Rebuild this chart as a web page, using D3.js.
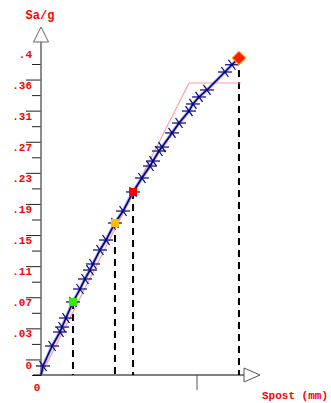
<!DOCTYPE html>
<html>
<head>
<meta charset="utf-8">
<script src="https://cdn.jsdelivr.net/npm/d3@7"></script>
<style>
  body { margin: 0; background: #fff; }
  text { font-family: "Liberation Mono", "DejaVu Sans Mono", monospace; font-weight: bold; fill: #ff0000; }
</style>
</head>
<body>
<div id="chart"></div>
<script>
// Capacity curve data (displacement in mm, Sa/g)
const dispMm = [0, 1.3, 7.1, 12.2, 13.5, 16.0, 20.5, 25.0, 28.2, 31.4, 33.3, 37.8, 41.7, 47.4, 52.6, 59.0,
  64.7, 69.9, 71.8, 75.6, 77.6, 84.0, 88.5, 94.9, 97.4, 101.3, 106.4, 117.9, 122.4, 126.9];
const saG = [0, 0.0116, 0.0373, 0.0553, 0.0617, 0.0733, 0.0939, 0.1106, 0.1235, 0.1350, 0.1428, 0.1608,
  0.1736, 0.1955, 0.2109, 0.2354, 0.2534, 0.2688, 0.2752, 0.2881, 0.2932, 0.3113, 0.3241, 0.3395,
  0.3486, 0.3576, 0.3666, 0.3897, 0.3990, 0.4077];

// Bilinear equivalent
const bilinX = [0, 94.9, 128.2];
const bilinY = [0, 0.3756, 0.3756];

// Highlighted points (limit states)
const poiX = [20.5, 47.4, 59.0, 126.9];
const poiY = [0.0939, 0.1955, 0.2354, 0.4077];
const poiColor = ["#33ee00", "#ffbb00", "#ff0000", "#ff1a00"];

// Y tick labels
const yTicks = [0, 0.04, 0.08, 0.12, 0.16, 0.20, 0.24, 0.28, 0.32, 0.36, 0.40];
const yLabels = ["0", ".03", ".07", ".11", ".15", ".19", ".23", ".27", ".31", ".36", ".4"];
const yMinor = [0.02, 0.06, 0.10, 0.14, 0.18, 0.22, 0.26, 0.30, 0.34, 0.38];
const xTicks = [100];

const W = 331, H = 403;
const x = d3.scaleLinear().domain([0, 100]).range([41, 197]);
const y = d3.scaleLinear().domain([0, 0.4]).range([375, 64]);

const svg = d3.select("#chart").append("svg")
    .attr("width", W)
    .attr("height", H);

// y axis: labeled (short) ticks
const yAx = svg.append("g")
    .attr("transform", `translate(${x(0)},0)`)
    .call(d3.axisLeft(y).tickValues(yTicks).tickSize(9).tickPadding(0)
        .tickFormat((d, i) => yLabels[i]));
yAx.select(".domain").remove();
yAx.selectAll("line").attr("stroke", "#222");
yAx.selectAll("text")
    .attr("x", -9)
    .attr("y", -7)
    .attr("dy", 0)
    .style("font-size", "11px")
    .style("fill", "#ff0000");

// y axis: long in-between ticks
const yAx2 = svg.append("g")
    .attr("transform", `translate(${x(0)},0)`)
    .call(d3.axisLeft(y).tickValues(yMinor).tickSize(15).tickFormat(""));
yAx2.select(".domain").remove();
yAx2.selectAll("line").attr("stroke", "#222");

// y axis line + arrow
svg.append("line")
    .attr("x1", x(0)).attr("x2", x(0))
    .attr("y1", y(0)).attr("y2", 42)
    .attr("stroke", "#666").attr("stroke-width", 1.5);
svg.append("path")
    .attr("d", `M${x(0) - 7.5},42 L${x(0)},27 L${x(0) + 7.5},42 Z`)
    .attr("fill", "none").attr("stroke", "#666");

// x axis line + arrow
svg.append("line")
    .attr("x1", 33).attr("x2", 244)
    .attr("y1", y(0)).attr("y2", y(0))
    .attr("stroke", "#000").attr("stroke-width", 1.2);
svg.append("path")
    .attr("d", `M244,${y(0) - 7} L260,${y(0)} L244,${y(0) + 7} Z`)
    .attr("fill", "none").attr("stroke", "#555");

svg.selectAll(".xtick")
    .data(xTicks)
    .join("line")
    .attr("x1", d => x(d)).attr("x2", d => x(d))
    .attr("y1", y(0)).attr("y2", y(0) + 15)
    .attr("stroke", "#555");

svg.append("text")
    .attr("x", x(0) - 4).attr("y", 391)
    .attr("text-anchor", "middle")
    .style("font-size", "11px")
    .text("0");

// axis titles
svg.append("text")
    .attr("x", 40).attr("y", 19)
    .attr("text-anchor", "middle")
    .style("font-size", "12px")
    .text("Sa/g");
svg.append("text")
    .attr("x", 262).attr("y", 399)
    .style("font-size", "11px")
    .text("Spost (mm)");

// dashed drop lines
svg.selectAll(".drop")
    .data(poiX)
    .join("line")
    .attr("x1", d => x(d)).attr("x2", d => x(d))
    .attr("y1", (d, i) => y(poiY[i]))
    .attr("y2", y(0))
    .attr("stroke", "#000")
    .attr("stroke-width", 2)
    .attr("stroke-dasharray", "7,5");

// bilinear curve
const bilin = d3.range(bilinX.length).map(i => [bilinX[i], bilinY[i]]);
svg.append("path")
    .datum(bilin)
    .attr("fill", "none")
    .attr("stroke", "#ff9a9a")
    .attr("stroke-width", 1.1)
    .attr("d", d3.line().x(d => x(d[0])).y(d => y(d[1])));

// capacity curve
const curve = d3.range(dispMm.length).map(i => [dispMm[i], saG[i]]);
const line = d3.line().x(d => x(d[0])).y(d => y(d[1]));
svg.append("path")
    .datum(curve)
    .attr("fill", "none")
    .attr("stroke", "#8080c8")
    .attr("stroke-opacity", 0.6)
    .attr("stroke-width", 3.5)
    .attr("d", line);
svg.append("path")
    .datum(curve)
    .attr("fill", "none")
    .attr("stroke", "#000080")
    .attr("stroke-width", 1.6)
    .attr("d", line);

// cross markers
const marks = svg.append("g")
    .selectAll("g")
    .data(curve.slice(1, -1))
    .join("g")
    .attr("transform", d => `translate(${x(d[0])},${y(d[1])})`);
marks.append("line")
    .attr("x1", -7).attr("x2", 7).attr("y1", 0).attr("y2", 0)
    .attr("stroke", "#000080").attr("stroke-width", 1.2);
marks.append("line")
    .attr("x1", -3.5).attr("x2", 3.5).attr("y1", -5).attr("y2", 5)
    .attr("stroke", "#000080").attr("stroke-width", 1.2);

// highlighted points
svg.selectAll(".poi")
    .data(poiX)
    .join("rect")
    .attr("x", -4).attr("y", -4)
    .attr("width", 8).attr("height", 8)
    .attr("transform", (d, i) => `translate(${x(d)},${y(poiY[i])})` + (i === 3 ? " rotate(45) scale(1.2)" : ""))
    .attr("fill", (d, i) => poiColor[i])
    .attr("stroke", (d, i) => i === 3 ? "#ffaa00" : "none")
    .attr("stroke-width", 0.8);
</script>
</body>
</html>
